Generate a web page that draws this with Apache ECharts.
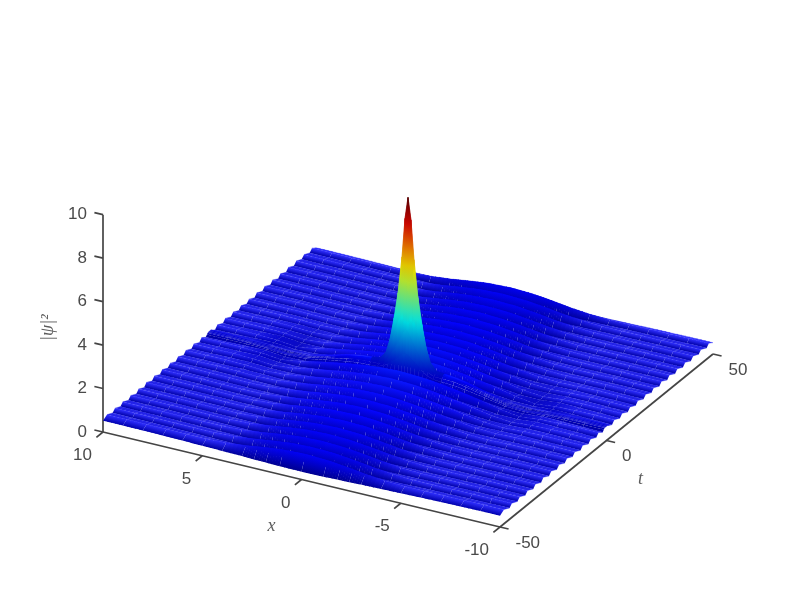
<!DOCTYPE html>
<html><head><meta charset="utf-8">
<script src="https://cdn.jsdelivr.net/npm/echarts@6/dist/echarts.min.js"></script>
<style>html,body{margin:0;background:#fff}#c{width:789px;height:592px}</style></head>
<body><div id="c"></div>
<script>
// |x| sample positions; the surface was read as mirror-symmetric in x
const xCols=[0,.15,.3,.5,.7,.9,1.1,1.4,1.8,2.4,3,4,5,6,7,8,9,10];
// columns used away from the spike
const xColsRidge=[0,1.1,1.8,2.4,3,4,5,6,7,8,9,10];
// rows around the central spike (|t|)
const peakT=[0,.3,.6,.85,1.2];
const zPeak=[
[9.0,8.0,6.2,4.5,3.3,2.3,1.65,1.3,1.25,1.2,1.1,.85,.62,.5,.6,.66,.66,.66],
[7.4,6.6,5.2,3.9,3.0,2.15,1.6,1.28,1.24,1.19,1.09,.84,.61,.5,.6,.66,.66,.66],
[4.8,4.4,3.7,3.0,2.4,1.85,1.45,1.22,1.2,1.16,1.05,.82,.6,.52,.6,.65,.66,.66],
[3.0,2.8,2.5,2.15,1.8,1.5,1.25,1.12,1.12,1.1,1.0,.8,.6,.55,.6,.64,.65,.65],
[1.9,1.85,1.7,1.55,1.4,1.25,1.12,1.02,1.0,.97,.9,.75,.58,.54,.58,.6,.6,.6]];
// ridge crests, from centre outward (mirrored in t)
const tCrest=[3.7,7.4,11.1,14.8,18.5,22.2,25.9,29.6,33.3,37,40.7,44.4,48.1];
const zCrest=[
[1.30,1.30,1.29,1.29,1.28,1.27,1.25,1.22,1.18,1.11,1.02,.86,.66,.52,.62,.66,.67,.66],
[1.25,1.25,1.24,1.24,1.23,1.22,1.20,1.17,1.13,1.06,.97,.82,.65,.56,.64,.67,.67,.66],
[1.20,1.20,1.19,1.19,1.18,1.17,1.15,1.12,1.08,1.01,.93,.79,.65,.60,.65,.68,.67,.66],
[1.17,1.17,1.16,1.16,1.15,1.14,1.13,1.10,1.06,.99,.91,.78,.67,.63,.66,.68,.67,.66],
[1.14,1.14,1.13,1.13,1.12,1.11,1.10,1.07,1.03,.96,.88,.76,.67,.64,.66,.67,.67,.66],
[1.12,1.12,1.11,1.11,1.10,1.09,1.08,1.05,1.01,.94,.86,.74,.66,.64,.65,.67,.66,.66],
[1.10,1.10,1.09,1.09,1.08,1.07,1.06,1.03,.99,.92,.84,.72,.65,.64,.65,.66,.66,.66],
[1.08,1.08,1.07,1.07,1.06,1.05,1.04,1.01,.97,.90,.82,.71,.65,.64,.65,.66,.66,.66],
[1.06,1.06,1.05,1.05,1.04,1.03,1.02,.99,.95,.88,.80,.70,.64,.64,.65,.65,.65,.65],
[1.05,1.05,1.04,1.04,1.03,1.02,1.01,.98,.94,.87,.79,.69,.64,.64,.65,.65,.65,.65],
[1.04,1.04,1.03,1.03,1.02,1.01,1.00,.97,.93,.86,.78,.68,.64,.64,.64,.65,.65,.65],
[1.03,1.03,1.02,1.02,1.01,1.00,.99,.96,.92,.85,.77,.68,.63,.63,.64,.64,.65,.65],
[1.02,1.02,1.01,1.01,1.00,.99,.98,.95,.91,.84,.76,.67,.63,.63,.64,.64,.65,.65]];
// ridge troughs, from centre outward
const tTroughNeg=[-1.8,-4.8,-8.5,-12.2,-15.9,-19.6,-23.3,-27,-30.7,-34.4,-38.1,-41.8,-45.5,-50];
const tTroughPos=[2.6,6.3,10,13.7,17.4,21.1,24.8,28.5,32.2,35.9,39.6,43.3,47,50];
const zTrough=[
[.95,.95,.95,.95,.95,.92,.90,.86,.82,.76,.72,.62,.52,.50,.58,.56,.54,.52],
[.85,.85,.85,.85,.85,.84,.83,.81,.78,.73,.68,.59,.50,.49,.58,.56,.54,.52],
[.78,.78,.78,.78,.78,.77,.76,.74,.72,.68,.64,.56,.50,.50,.55,.55,.53,.52],
[.72,.72,.72,.72,.72,.71,.71,.69,.67,.64,.60,.54,.50,.52,.54,.53,.53,.52],
[.67,.67,.67,.67,.67,.66,.66,.65,.63,.60,.57,.53,.50,.51,.52,.53,.52,.52],
[.62,.62,.62,.62,.62,.61,.61,.60,.59,.57,.55,.52,.50,.50,.51,.52,.52,.52],
[.58,.58,.58,.58,.58,.57,.57,.56,.55,.54,.53,.51,.50,.50,.51,.52,.52,.52],
[.54,.54,.54,.54,.54,.54,.53,.53,.52,.52,.51,.50,.50,.50,.51,.51,.52,.52],
[.50,.50,.50,.50,.50,.50,.50,.49,.49,.49,.49,.49,.49,.50,.50,.51,.51,.51],
[.47,.47,.47,.47,.47,.47,.47,.47,.47,.47,.48,.48,.49,.49,.50,.51,.51,.51],
[.44,.44,.44,.44,.44,.44,.44,.44,.45,.45,.46,.47,.48,.49,.50,.51,.51,.51],
[.41,.41,.41,.41,.41,.41,.41,.42,.42,.43,.44,.46,.48,.49,.50,.51,.51,.52],
[.38,.38,.38,.38,.38,.38,.39,.39,.40,.41,.42,.44,.46,.48,.49,.50,.51,.52],
[.36,.36,.36,.36,.36,.36,.37,.38,.39,.40,.42,.44,.46,.48,.50,.51,.52,.52]];
const xTicks=[10,5,0,-5,-10], tTicks=[-50,0,50], zTicks=[0,2,4,6,8,10];

// orthographic view of the 3-D box onto the hidden cartesian plane
function proj(x,t,z){return [103+(10-x)*19.85+(t+50)*2.13, 432+(10-x)*4.75-(t+50)*1.73-z*21.73];}

const rows=[];
peakT.forEach((t,i)=>{rows.push({t,z:zPeak[i]}); if(t>0) rows.push({t:-t,z:zPeak[i]});});
tCrest.forEach((t,i)=>{rows.push({t,z:zCrest[i]});rows.push({t:-t,z:zCrest[i]});});
tTroughNeg.forEach((t,i)=>rows.push({t,z:zTrough[i]}));
tTroughPos.forEach((t,i)=>rows.push({t,z:zTrough[i]}));
rows.sort((a,b)=>a.t-b.t);
const xFull=[],xIdx=[];
for(let i=xCols.length-1;i>0;i--){xFull.push(xCols[i]);xIdx.push(i);}
for(let i=0;i<xCols.length;i++){xFull.push(-xCols[i]);xIdx.push(i);}
const Z=rows.map(r=>xIdx.map(i=>r.z[i]));
const nR=rows.length,nC=xFull.length;
const ridgeC=xFull.map((x,c)=>c).filter(c=>xColsRidge.includes(Math.abs(xFull[c])));
const ZMAX=9, SPIKE_X=1.8;
function jet(v){v=Math.min(1,Math.max(0,v));const f=c=>Math.min(1,Math.max(0,1.5-Math.abs(4*v-c)));return [f(3),f(2),f(1)];}
const L=[.1,.5,.85],LN=Math.hypot(...L);
// shading is taken on the ridge columns so that it stays even along a ridge
const col=Z.map((row,r)=>{
 const out=[];
 ridgeC.forEach((c,i)=>{
  const z=row[c];
  const r2=r<nR-1?r+1:r, r1=r<nR-1?r:r-1;
  const dt=(Z[r2][c]-Z[r1][c])/10/((rows[r2].t-rows[r1].t)/100);
  const c1=ridgeC[Math.max(0,i-1)],c2=ridgeC[Math.min(ridgeC.length-1,i+1)];
  const dx=(Z[r][c2]-Z[r][c1])/10/((xFull[c2]-xFull[c1])/20);
  const n=[-dx,-dt,1],nn=Math.hypot(...n);
  const d=Math.max(0,(n[0]*L[0]+n[1]*L[1]+n[2]*L[2])/nn/LN);
  const shade=.86+.18*d, spec=Math.pow(d,14)*.2;
  out[c]=jet(z/ZMAX).map(a=>Math.min(1,a*shade+spec));
 });
 return out;
});
const rgb=a=>`rgb(${a.map(v=>Math.round(v*255)).join(',')})`;
const mix=(a,b,f)=>a.map((v,i)=>v+(b[i]-v)*f);
const lerp2=(p,q,f)=>[p[0]+(q[0]-p[0])*f,p[1]+(q[1]-p[1])*f];
const peakColor=z=>{
 const lowS=.76+.12*Math.min(1,Math.max(0,(z-1)/2.5));
 const s=z>6.8?lowS-.2*(z-6.8)/2.2:lowS;
 return jet(z/ZMAX).map(a=>a*s);
};
// draw list, far to near; [column, row, next column, piece, pieces]
const PIECES=5;
const cells=[];
for(let r=nR-2;r>=0;r--){
 const fine=Math.abs(rows[r].t)<=1.2||Math.abs(rows[r+1].t)<=1.2;
 if(fine){
  for(let c=0;c<nC-1;c++){
   const spike=Math.abs(xFull[c])<=SPIKE_X&&Math.abs(xFull[c+1])<=SPIKE_X;
   if(spike)cells.push([c,r,c+1,0,1]);
   else if(col[r][c]&&col[r][c+1])for(let k=0;k<PIECES;k++)cells.push([c,r,c+1,k,PIECES]);
  }
 }
 else{for(let i=0;i<ridgeC.length-1;i++)for(let k=0;k<PIECES;k++)cells.push([ridgeC[i],r,ridgeC[i+1],k,PIECES]);}
}

function renderCell(p,api){
 const c=api.value(0),r=api.value(1),c2=api.value(2),k=api.value(3),n=api.value(4);
 const P=(rr,cc)=>api.coord(proj(xFull[cc],rows[rr].t,Z[rr][cc]));
 const A=P(r,c),B=P(r,c2),D=P(r+1,c2),E=P(r+1,c);
 const f0=k/n,f1=Math.min(1,(k+1)/n+(n>1?.04:0));
 const a=lerp2(A,B,f0),b=lerp2(A,B,f1),e=lerp2(E,D,f0),d=lerp2(E,D,f1);
 if(n===1){
  const zs=[Z[r][c],Z[r][c2],Z[r+1][c2],Z[r+1][c]];
  const hi=Math.max(...zs),lo=Math.min(...zs);
  const ys=[a[1],b[1],d[1],e[1]],y0=Math.min(...ys),y1=Math.max(...ys),stops=[];
  for(let q=0;q<=4;q++){const f=q/4;stops.push({offset:f,color:rgb(peakColor(hi+(lo-hi)*f))});}
  const g=new echarts.graphic.LinearGradient(0,y0,0,Math.max(y1,y0+.01),stops,true);
  return {type:'polygon',shape:{points:[a,b,d,e]},style:{fill:g,stroke:g,lineWidth:.5}};
 }
 const fm=(f0+f1)/2;
 const C=mix(col[r][c],col[r][c2],fm),F=mix(col[r+1][c],col[r+1][c2],fm);
 // the near side of a ridge: row r is the trough below row r+1, the crest
 const rising=Z[r+1][c]+Z[r+1][c2]>Z[r][c]+Z[r][c2];
 if(!rising){
  const s=rgb(mix(C,F,.25));
  return {type:'polygon',shape:{points:[a,b,d,e]},style:{fill:s,stroke:s,lineWidth:.3}};
 }
 const s0=lerp2(a,b,.5),s1=lerp2(e,d,.5);
 const ex=b[0]-a[0],ey=b[1]-a[1],el=Math.hypot(ex,ey)||1,nx=-ey/el,ny=ex/el;
 let h=(s1[0]-s0[0])*nx+(s1[1]-s0[1])*ny;
 if(Math.abs(h)<.3)h=h<0?-.3:.3;
 const g=new echarts.graphic.LinearGradient(s0[0],s0[1],s0[0]+nx*h,s0[1]+ny*h,[{offset:0,color:rgb(C)},{offset:1,color:rgb(F)}],true);
 return {type:'polygon',shape:{points:[a,b,d,e]},style:{fill:g}};
}

function renderAxes(p,api){
 const kids=[],INK='#454545',TXT='#4a4a4a';
 const C=q=>api.coord(q);
 const line=(q1,q2)=>{const a=C(q1),b=C(q2);kids.push({type:'line',shape:{x1:a[0],y1:a[1],x2:b[0],y2:b[1]},style:{stroke:INK,lineWidth:1.7}});};
 const txt=(s,q,dx,dy,al,font,fill)=>{const a=C(q);kids.push({type:'text',style:{text:s,x:a[0]+dx,y:a[1]+dy,textAlign:al,textVerticalAlign:'middle',font:font||"17px 'Liberation Sans'",fill:fill||TXT}});};
 line(proj(10,-50,0),proj(10,-50,10));
 line(proj(10,-50,0),proj(-10,-50,0));
 line(proj(-10,-50,0),proj(-10,50,0));
 zTicks.forEach(z=>{const q=proj(10,-50,z);line(q,[q[0]-8.6,q[1]-2]);txt(String(z),q,-16,0,'right');});
 xTicks.forEach(x=>{const q=proj(x,-50,0);line(q,[q[0]-6.6,q[1]+5.4]);txt(String(x),q,-11,23.5,'right');});
 tTicks.forEach(t=>{const q=proj(-10,t,0);line(q,[q[0]+8.6,q[1]+2]);txt(String(t),q,15.5,16,'left');});
 const ser="italic 18px 'Liberation Serif'",g='#5c5c5c';
 txt('x',proj(0,-50,0),-30,47,'center',ser,g);
 txt('t',proj(-10,0,0),34,39,'center',ser,g);
 const a=C(proj(10,-50,4.8));
 kids.push({type:'text',x:a[0]-55,y:a[1],rotation:Math.PI/2,style:{text:'|ψ|²',x:0,y:0,textAlign:'center',textVerticalAlign:'middle',font:ser,fill:g}});
 return {type:'group',children:kids};
}

const chart=echarts.init(document.getElementById('c'),null,{renderer:'canvas'});
chart.setOption({
 animation:false,backgroundColor:'#fff',
 grid:{left:0,right:0,top:0,bottom:0},
 xAxis:{type:'value',min:0,max:789,show:false},
 yAxis:{type:'value',min:0,max:592,inverse:true,show:false},
 series:[
  {type:'custom',coordinateSystem:'cartesian2d',data:cells,renderItem:renderCell,silent:true,progressive:0,clip:false,encode:{x:0,y:1},z:2},
  {type:'custom',coordinateSystem:'cartesian2d',data:[[0,0]],renderItem:renderAxes,silent:true,clip:false,encode:{x:0,y:1},z:1}
 ]
});
</script></body></html>
